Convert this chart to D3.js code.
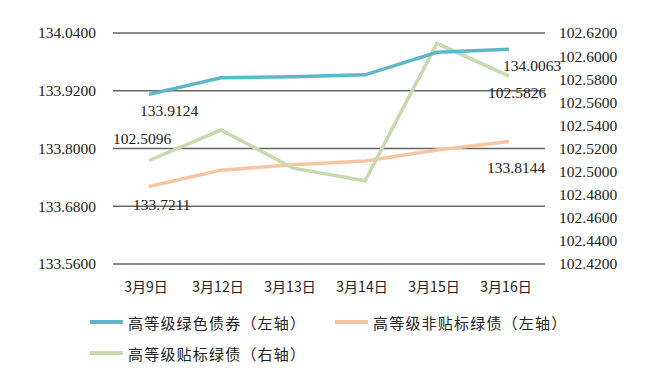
<!DOCTYPE html>
<html><head><meta charset="utf-8">
<script src="https://cdn.jsdelivr.net/npm/d3@7"></script>
<style>body{margin:0;background:#fff}svg{display:block}</style>
</head><body><svg id="c" width="647" height="386"></svg>
<script>
const categories = ["3月9日","3月12日","3月13日","3月14日","3月15日","3月16日"];
const greenBond = [133.9124,133.947,133.949,133.953,134.000,134.0063];
const nonLabelBond = [133.7211,133.755,133.766,133.774,133.797,133.8144];
const labelBond = [102.5096,102.536,102.503,102.492,102.611,102.5826];
const leftTicks = [133.56,133.68,133.80,133.92,134.04];
const rightTicks = [102.42,102.44,102.46,102.48,102.50,102.52,102.54,102.56,102.58,102.60,102.62];
const seriesNames = ["高等级绿色债券（左轴）","高等级非贴标绿债（左轴）","高等级贴标绿债（右轴）"];
const colors = ["#5cb8c9","#f8c5a1","#c8d9ae"];

const svg = d3.select("#c");
const x = d3.scaleBand().domain(categories).range([113,545]);
const yL = d3.scaleLinear().domain([133.56,134.04]).range([264,33]);
const yR = d3.scaleLinear().domain([102.42,102.62]).range([264,33]);
const cx = c => x(c) + x.bandwidth()/2;

svg.append("g").selectAll("line").data(leftTicks).join("line")
  .attr("x1",113).attr("x2",545).attr("y1",d=>yL(d)).attr("y2",d=>yL(d))
  .attr("stroke","#666").attr("stroke-width",1.5);

const numFont = "'Liberation Serif','Times New Roman',serif";
const gl = svg.append("g").attr("transform","translate(96,0)")
  .call(d3.axisLeft(yL).tickValues(leftTicks).tickFormat(d3.format(".4f")).tickSize(0).tickPadding(0));
gl.select(".domain").remove();
gl.selectAll("text").attr("font-family",numFont).attr("font-size",15.5).attr("fill","#222");
const gr = svg.append("g").attr("transform","translate(559,0)")
  .call(d3.axisRight(yR).tickValues(rightTicks).tickFormat(d3.format(".4f")).tickSize(0).tickPadding(0));
gr.select(".domain").remove();
gr.selectAll("text").attr("font-family",numFont).attr("font-size",15.5).attr("fill","#222");

const gx = svg.append("g").attr("transform","translate(-3,282)")
  .call(d3.axisBottom(x).tickSize(0).tickPadding(0));
gx.select(".domain").remove();
gx.selectAll("text").attr("font-family","'Noto Sans CJK SC',sans-serif").attr("font-size",14).attr("fill","#222");

const data = [
  {vals:greenBond, y:yL, color:colors[0]},
  {vals:nonLabelBond, y:yL, color:colors[1]},
  {vals:labelBond, y:yR, color:colors[2]}
];
[1,2,0].forEach(i=>{
  const s = data[i];
  const line = d3.line().x((d,j)=>cx(categories[j])).y(d=>s.y(d));
  svg.append("path").datum(s.vals).attr("d",line).attr("fill","none")
    .attr("stroke",s.color).attr("stroke-width",3.5).attr("stroke-linejoin","miter");
});

function lab(val, xx, yy){
  svg.append("text").attr("x",xx).attr("y",yy).attr("font-family",numFont)
    .attr("font-size",15.5).attr("fill","#222").attr("dominant-baseline","central")
    .text(d3.format(".4f")(val));
}
const first = cx(categories[0]), last = cx(categories[5]);
lab(greenBond[0], first-9, yL(greenBond[0])+16);
lab(labelBond[0], first-36, yR(labelBond[0])-22);
lab(nonLabelBond[0], first-16, yL(nonLabelBond[0])+18);
lab(greenBond[5], last-6, yL(greenBond[5])+16);
lab(labelBond[5], last-21, yR(labelBond[5])+16);
lab(nonLabelBond[5], last-22, yL(nonLabelBond[5])+26);

const lf = "'Noto Sans CJK SC',sans-serif";
const leg = [{x:90,y:322},{x:335,y:322},{x:90,y:353}];
leg.forEach((p,i)=>{
  svg.append("line").attr("x1",p.x).attr("x2",p.x+33).attr("y1",p.y).attr("y2",p.y)
    .attr("stroke",colors[i]).attr("stroke-width",4);
  svg.append("text").attr("x",p.x+38).attr("y",p.y).attr("dominant-baseline","central")
    .attr("font-family",lf).attr("font-size",15).attr("letter-spacing",1.2).attr("fill","#222")
    .text(seriesNames[i]);
});
</script></body></html>
